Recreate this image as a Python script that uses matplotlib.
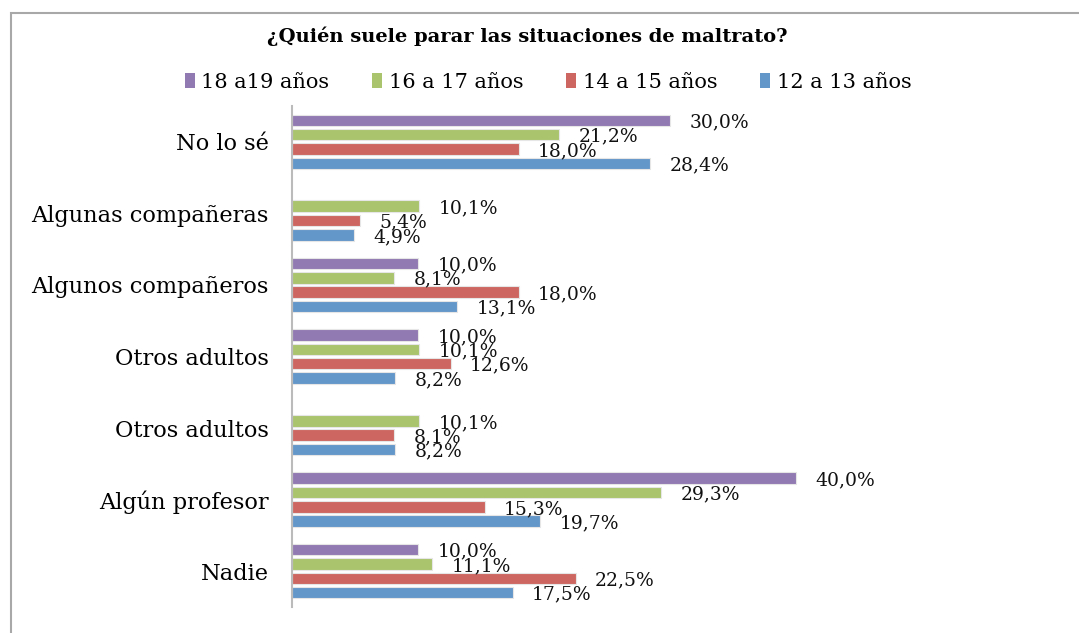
import matplotlib
matplotlib.use("Agg")
import matplotlib.pyplot as plt
from matplotlib.patches import Patch, Rectangle
import numpy as np

categories = ["No lo sé", "Algunas compañeras", "Algunos compañeros", "Otros adultos",
              "Otros adultos", "Algún profesor", "Nadie"]
series = ["18 a19 años", "16 a 17 años", "14 a 15 años", "12 a 13 años"]
v_18_19 = [30.0, None, 10.0, 10.0, None, 40.0, 10.0]
v_16_17 = [21.2, 10.1, 8.1, 10.1, 10.1, 29.3, 11.1]
v_14_15 = [18.0, 5.4, 18.0, 12.6, 8.1, 15.3, 22.5]
v_12_13 = [28.4, 4.9, 13.1, 8.2, 8.2, 19.7, 17.5]
colors = ["#9179B2", "#A9C46C", "#CD6660", "#6396C9"]

W, H = 1079, 633
fig = plt.figure(figsize=(W / 100, H / 100), dpi=100)
font = "DejaVu Serif"

# chart frame
fig.patches.append(Rectangle((10.5 / W, -0.1), 1.2, 1 - 13.5 / H + 0.1,
                             transform=fig.transFigure, fill=False,
                             edgecolor="#A8A8A8", linewidth=1.5))

left, right, top, bottom = 292, 1040, 106, 607
ax = fig.add_axes([left / W, (H - bottom) / H, (right - left) / W, (bottom - top) / H])
px_per_unit = 12.6
ax.set_xlim(0, (right - left) / px_per_unit)
ax.set_ylim(len(categories) - 0.5, -0.5)

slot = 14.3 / 71.5
bar_h = 11.5 / 71.5
y = np.arange(len(categories))
for k, (vals, col) in enumerate(zip([v_18_19, v_16_17, v_14_15, v_12_13], colors)):
    off = (k - 1.5) * slot
    for i, v in enumerate(vals):
        if v is None:
            continue
        ax.barh(y[i] + off, v, height=bar_h, color=col, edgecolor="#E6E6E6", linewidth=0.8)
        ax.annotate(f"{v:.1f}".replace(".", ",") + "%", (v, y[i] + off),
                    xytext=(14, -1.5), textcoords="offset points",
                    ha="left", va="center", fontsize=13.5, family=font, color="#111111")

ax.set_yticks(y)
ax.set_yticklabels(categories, fontsize=16.2, family=font)
ax.tick_params(axis="y", length=0, pad=17)
ax.set_xticks([])
for s in ["top", "right", "bottom"]:
    ax.spines[s].set_visible(False)
ax.spines["left"].set_color("#BBBBBB")
ax.spines["left"].set_linewidth(1.5)

fig.text(527 / W, 1 - 36 / H, "¿Quién suele parar las situaciones de maltrato?",
         ha="center", va="center", fontsize=14, fontweight="bold", family=font)

handles = [Patch(facecolor=c, edgecolor="none") for c in colors]
fig.legend(handles, series, loc="center", bbox_to_anchor=(548 / W, 1 - 82 / H), ncol=4,
           frameon=False, prop={"family": font, "size": 15},
           handlelength=0.5, handleheight=0.7, handletextpad=0.3, columnspacing=2.05)

fig.savefig("out.png", dpi=100)
